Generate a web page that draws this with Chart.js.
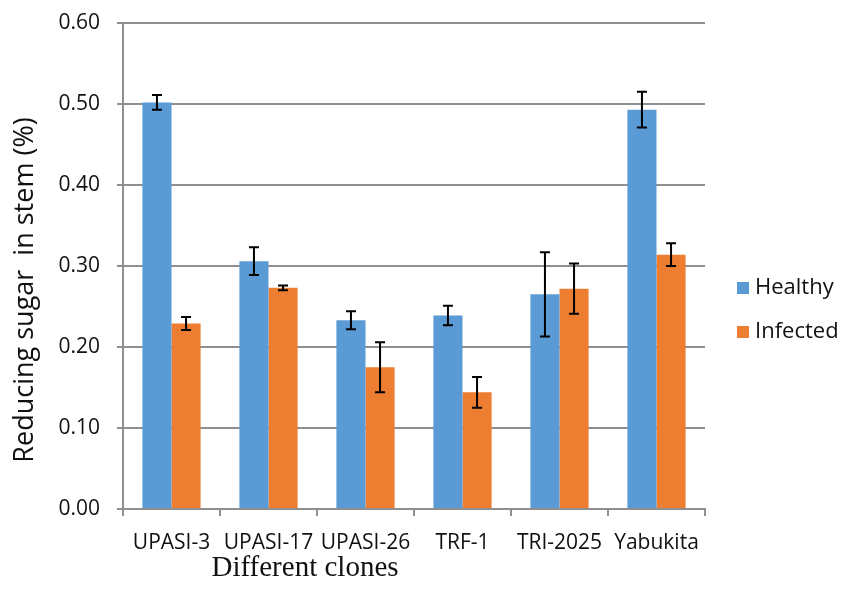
<!DOCTYPE html>
<html>
<head>
<meta charset="utf-8">
<script src="https://cdn.jsdelivr.net/npm/chart.js@4/dist/chart.umd.min.js"></script>
<style>
  html, body { margin: 0; padding: 0; background: #fff; }
  #wrap { width: 843px; height: 605px; position: relative; }
</style>
</head>
<body>
<div id="wrap"><canvas id="c" width="843" height="605"></canvas></div>
<script>
// Reducing sugar content in stem for six tea clones
const clones = ['UPASI-3', 'UPASI-17', 'UPASI-26', 'TRF-1', 'TRI-2025', 'Yabukita'];
const healthy = [0.502, 0.306, 0.233, 0.239, 0.265, 0.493];
const healthyErr = [0.009, 0.017, 0.011, 0.012, 0.052, 0.022];
const infected = [0.229, 0.273, 0.175, 0.144, 0.272, 0.314];
const infectedErr = [0.008, 0.003, 0.031, 0.019, 0.031, 0.014];
const yTicks = [0, 0.1, 0.2, 0.3, 0.4, 0.5, 0.6];

const BLUE = '#5B9BD5';
const ORANGE = '#ED7D31';
const GRID = '#8f8f8f';
const TEXT = '#111111';
const SANS = '"Open Sans", sans-serif';

// Error bars (± SE) drawn on top of every bar
const errorBars = {
  id: 'errorBars',
  afterDatasetsDraw(chart) {
    const ctx = chart.ctx;
    const y = chart.scales.y;
    chart.data.datasets.forEach((ds, di) => {
      const meta = chart.getDatasetMeta(di);
      meta.data.forEach((bar, i) => {
        const v = ds.data[i], e = ds.errors[i];
        const top = y.getPixelForValue(v + e);
        const bot = y.getPixelForValue(v - e);
        const cap = 5;
        ctx.save();
        ctx.strokeStyle = '#000';
        ctx.lineWidth = 2;
        ctx.beginPath();
        ctx.moveTo(bar.x, top); ctx.lineTo(bar.x, bot);
        ctx.moveTo(bar.x - cap, top); ctx.lineTo(bar.x + cap, top);
        ctx.moveTo(bar.x - cap, bot); ctx.lineTo(bar.x + cap, bot);
        ctx.stroke();
        ctx.restore();
      });
    });
  }
};

// Legend on the right and the two axis titles
const decorations = {
  id: 'decorations',
  afterDraw(chart) {
    const ctx = chart.ctx;
    const area = chart.chartArea;
    ctx.save();
    // legend
    const items = chart.data.datasets.map(d => ({ label: d.label, color: d.backgroundColor }));
    const lx = area.right + 32;
    let ly = 287;
    ctx.font = '22px ' + SANS;
    ctx.textBaseline = 'middle';
    ctx.textAlign = 'left';
    items.forEach(it => {
      ctx.fillStyle = it.color;
      ctx.fillRect(lx, ly - 5, 12, 12);
      ctx.fillStyle = TEXT;
      ctx.fillText(it.label, lx + 18, ly + 1);
      ly += 44;
    });
    // y-axis title
    ctx.save();
    ctx.translate(25, 290);
    ctx.rotate(-Math.PI / 2);
    ctx.font = '27px ' + SANS;
    ctx.textAlign = 'center';
    ctx.textBaseline = 'middle';
    ctx.fillStyle = TEXT;
    ctx.fillText('Reducing sugar  in stem (%)', 0, 0);
    ctx.restore();
    // x-axis title
    ctx.font = '29px "Liberation Serif", "Times New Roman", serif';
    ctx.textAlign = 'center';
    ctx.textBaseline = 'alphabetic';
    ctx.fillStyle = TEXT;
    ctx.fillText('Different clones', 305, 576);
    ctx.restore();
  }
};

new Chart(document.getElementById('c'), {
  type: 'bar',
  data: {
    labels: clones,
    datasets: [
      { label: 'Healthy', data: healthy, errors: healthyErr, backgroundColor: BLUE,
        categoryPercentage: 0.6, barPercentage: 1.0 },
      { label: 'Infected', data: infected, errors: infectedErr, backgroundColor: ORANGE,
        categoryPercentage: 0.6, barPercentage: 1.0 }
    ]
  },
  options: {
    responsive: false,
    animation: false,
    devicePixelRatio: 1,
    layout: { padding: { left: 0, right: 138, top: 23, bottom: 0 } },
    plugins: { legend: { display: false }, tooltip: { enabled: false } },
    scales: {
      x: {
        offset: true,
        grid: { drawOnChartArea: false, drawTicks: true, tickLength: 7, color: GRID, lineWidth: 2 },
        border: { color: GRID, width: 2 },
        ticks: { color: TEXT, font: { family: SANS, size: 21 }, padding: 14, maxRotation: 0, autoSkip: false },
        afterFit(s) { s.height = 96; s.paddingLeft = 0; s.paddingRight = 0; }
      },
      y: {
        min: 0,
        max: 0.6,
        afterBuildTicks(s) { s.ticks = yTicks.map(v => ({ value: v })); },
        grid: { color: GRID, lineWidth: 2, tickLength: 6 },
        border: { color: GRID, width: 2 },
        ticks: { color: TEXT, font: { family: SANS, size: 21 }, padding: 17,
                 callback: v => Number(v).toFixed(2) },
        afterFit(s) { s.width = 123; s.paddingTop = 0; s.paddingBottom = 0; }
      }
    }
  },
  plugins: [errorBars, decorations]
});
</script>
</body>
</html>
